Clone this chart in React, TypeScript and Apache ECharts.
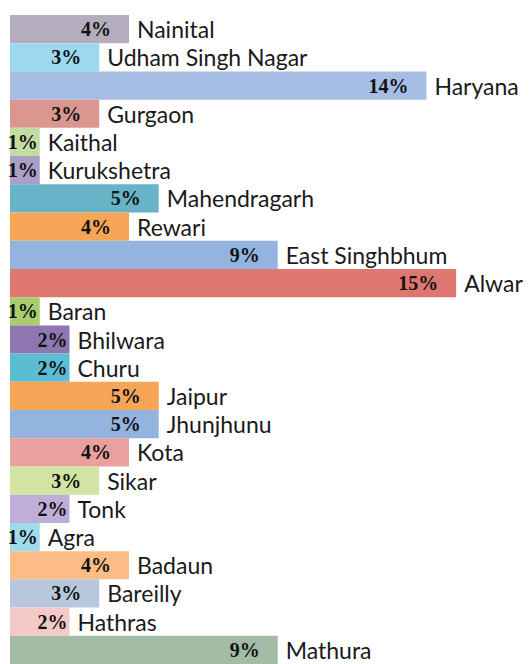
import React, { useEffect, useRef } from "react";
import * as echarts from "echarts";

const categories = [
  "Nainital", "Udham Singh Nagar", "Haryana", "Gurgaon", "Kaithal", "Kurukshetra",
  "Mahendragarh", "Rewari", "East Singhbhum", "Alwar", "Baran", "Bhilwara", "Churu",
  "Jaipur", "Jhunjhunu", "Kota", "Sikar", "Tonk", "Agra", "Badaun", "Bareilly",
  "Hathras", "Mathura",
];
const values = [4, 3, 14, 3, 1, 1, 5, 4, 9, 15, 1, 2, 2, 5, 5, 4, 3, 2, 1, 4, 3, 2, 9];
const colors = [
  "#b3adbe", "#9cd9f0", "#a6bee3", "#db9690", "#c3dca1", "#ab9ec8",
  "#68b3c8", "#f7a658", "#93b4de", "#dd7770", "#a9cc6d", "#8e77b1", "#5abdd3",
  "#f7a658", "#93b4de", "#e8a19e", "#d1e4a3", "#beaed8", "#a0daef", "#fbbc86", "#b8c8dc",
  "#f4cac9", "#a2bca6",
];

export default function App() {
  const ref = useRef<HTMLDivElement>(null);
  useEffect(() => {
    if (!ref.current) return;
    const chart = echarts.init(ref.current, undefined, { renderer: "svg" });
    chart.setOption({
      animation: false,
      grid: { left: 10, top: 15, width: 522, height: 652, containLabel: false },
      xAxis: { type: "value", min: 0, max: 17.55, show: false },
      yAxis: { type: "category", data: categories, inverse: true, show: false },
      series: [
        {
          type: "bar",
          barCategoryGap: "0%",
          data: values.map((v, i) => ({
            value: v,
            itemStyle: { color: colors[i] },
            label: { distance: v <= 2 ? 2 : 18 },
          })),
          label: {
            show: true,
            position: "insideRight",
            formatter: "{c}%",
            fontFamily: "Liberation Serif",
            fontWeight: "bold",
            fontSize: 20,
            color: "#111",
          },
          z: 2,
        },
        {
          type: "bar",
          barGap: "-100%",
          barCategoryGap: "0%",
          data: values,
          itemStyle: { color: "rgba(0,0,0,0)" },
          label: {
            show: true,
            position: "right",
            distance: 8,
            formatter: (p: any) => categories[p.dataIndex],
            fontFamily: "Lato",
            fontSize: 23,
            color: "#1a1a1a",
          },
          z: 1,
          silent: true,
        },
      ],
    });
    return () => chart.dispose();
  }, []);
  return (
    <div
      ref={ref}
      style={{ position: "fixed", left: 0, top: 0, width: 532, height: 664, background: "#fff" }}
    />
  );
}
